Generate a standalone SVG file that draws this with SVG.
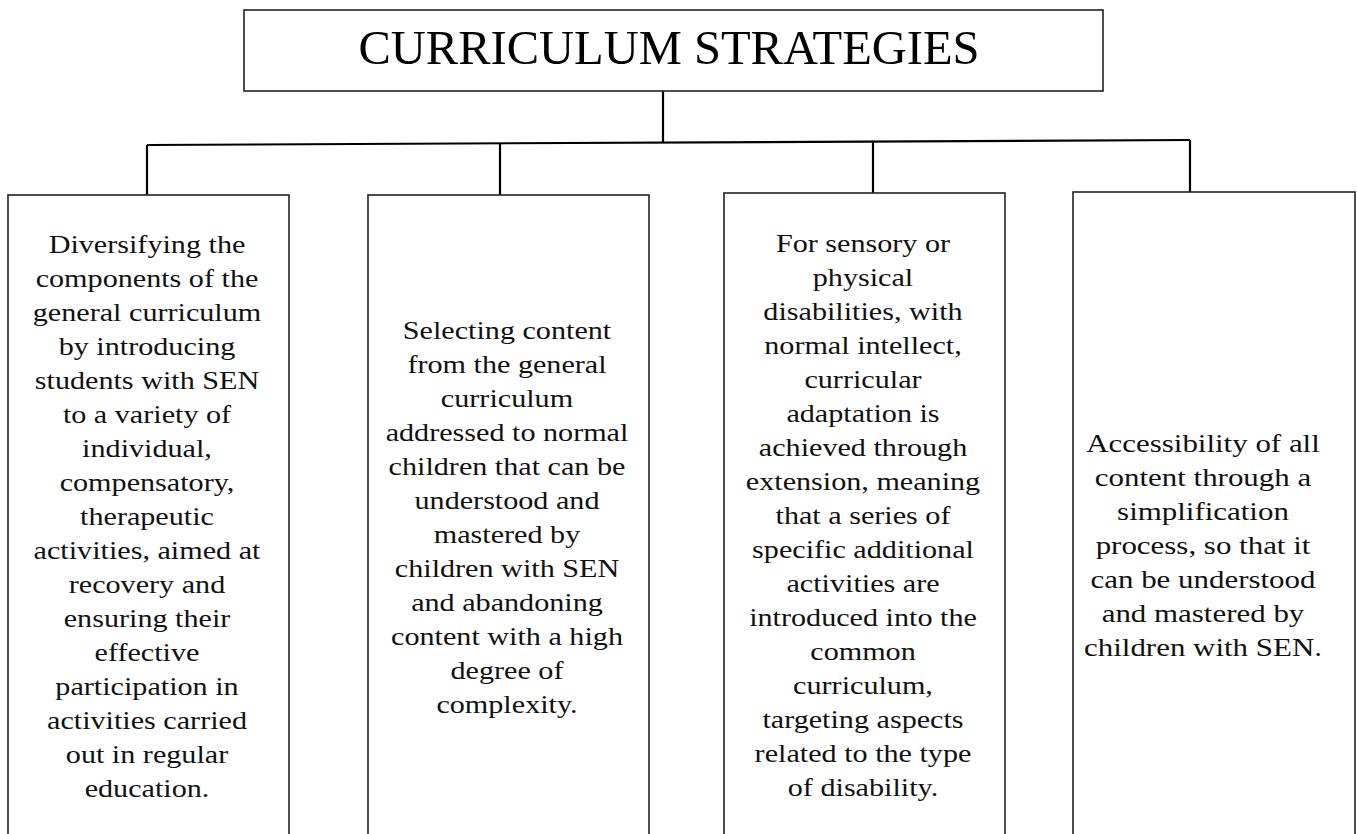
<svg xmlns="http://www.w3.org/2000/svg" width="1357" height="834" viewBox="0 0 1357 834">
<style>
.box{fill:#fff;stroke:#222;stroke-width:1.6}
.conn{fill:none;stroke:#000;stroke-width:2.2}
.title{font-family:"Liberation Serif","Times New Roman",serif;font-size:48.5px;fill:#000;text-anchor:middle}
.body{font-family:"Liberation Serif","Times New Roman",serif;font-size:26px;fill:#111;text-anchor:middle}
</style>
<rect width="1357" height="834" fill="#fff"/>
<g id="connectors">
<line class="conn" x1="663" y1="91" x2="663" y2="143"/>
<line class="conn" x1="147" y1="145" x2="1190" y2="140"/>
<line class="conn" x1="147" y1="145" x2="147" y2="195"/>
<line class="conn" x1="500" y1="143.3" x2="500" y2="195"/>
<line class="conn" x1="873" y1="141.8" x2="873" y2="193"/>
<line class="conn" x1="1190" y1="140" x2="1190" y2="192"/>
</g>
<g id="title">
<rect class="box" x="244" y="10" width="859" height="81"/>
<text class="title" x="669" y="64">CURRICULUM STRATEGIES</text>
</g>
<g id="node1">
<rect class="box" x="8" y="195" width="281" height="650"/>
<g transform="translate(147,0) scale(1.16,1)">
<text class="body" x="0" y="253">Diversifying the</text>
<text class="body" x="0" y="287">components of the</text>
<text class="body" x="0" y="321">general curriculum</text>
<text class="body" x="0" y="355">by introducing</text>
<text class="body" x="0" y="389">students with SEN</text>
<text class="body" x="0" y="423">to a variety of</text>
<text class="body" x="0" y="457">individual,</text>
<text class="body" x="0" y="491">compensatory,</text>
<text class="body" x="0" y="525">therapeutic</text>
<text class="body" x="0" y="559">activities, aimed at</text>
<text class="body" x="0" y="593">recovery and</text>
<text class="body" x="0" y="627">ensuring their</text>
<text class="body" x="0" y="661">effective</text>
<text class="body" x="0" y="695">participation in</text>
<text class="body" x="0" y="729">activities carried</text>
<text class="body" x="0" y="763">out in regular</text>
<text class="body" x="0" y="797">education.</text>
</g>
</g>
<g id="node2">
<rect class="box" x="368" y="195" width="281" height="650"/>
<g transform="translate(507,0) scale(1.16,1)">
<text class="body" x="0" y="339">Selecting content</text>
<text class="body" x="0" y="373">from the general</text>
<text class="body" x="0" y="407">curriculum</text>
<text class="body" x="0" y="441">addressed to normal</text>
<text class="body" x="0" y="475">children that can be</text>
<text class="body" x="0" y="509">understood and</text>
<text class="body" x="0" y="543">mastered by</text>
<text class="body" x="0" y="577">children with SEN</text>
<text class="body" x="0" y="611">and abandoning</text>
<text class="body" x="0" y="645">content with a high</text>
<text class="body" x="0" y="679">degree of</text>
<text class="body" x="0" y="713">complexity.</text>
</g>
</g>
<g id="node3">
<rect class="box" x="724" y="193" width="281" height="650"/>
<g transform="translate(863,0) scale(1.16,1)">
<text class="body" x="0" y="252">For sensory or</text>
<text class="body" x="0" y="286">physical</text>
<text class="body" x="0" y="320">disabilities, with</text>
<text class="body" x="0" y="354">normal intellect,</text>
<text class="body" x="0" y="388">curricular</text>
<text class="body" x="0" y="422">adaptation is</text>
<text class="body" x="0" y="456">achieved through</text>
<text class="body" x="0" y="490">extension, meaning</text>
<text class="body" x="0" y="524">that a series of</text>
<text class="body" x="0" y="558">specific additional</text>
<text class="body" x="0" y="592">activities are</text>
<text class="body" x="0" y="626">introduced into the</text>
<text class="body" x="0" y="660">common</text>
<text class="body" x="0" y="694">curriculum,</text>
<text class="body" x="0" y="728">targeting aspects</text>
<text class="body" x="0" y="762">related to the type</text>
<text class="body" x="0" y="796">of disability.</text>
</g>
</g>
<g id="node4">
<rect class="box" x="1073" y="192" width="282" height="650"/>
<g transform="translate(1203,0) scale(1.19,1)">
<text class="body" x="0" y="452">Accessibility of all</text>
<text class="body" x="0" y="486">content through a</text>
<text class="body" x="0" y="520">simplification</text>
<text class="body" x="0" y="554">process, so that it</text>
<text class="body" x="0" y="588">can be understood</text>
<text class="body" x="0" y="622">and mastered by</text>
<text class="body" x="0" y="656">children with SEN.</text>
</g>
</g>
</svg>
